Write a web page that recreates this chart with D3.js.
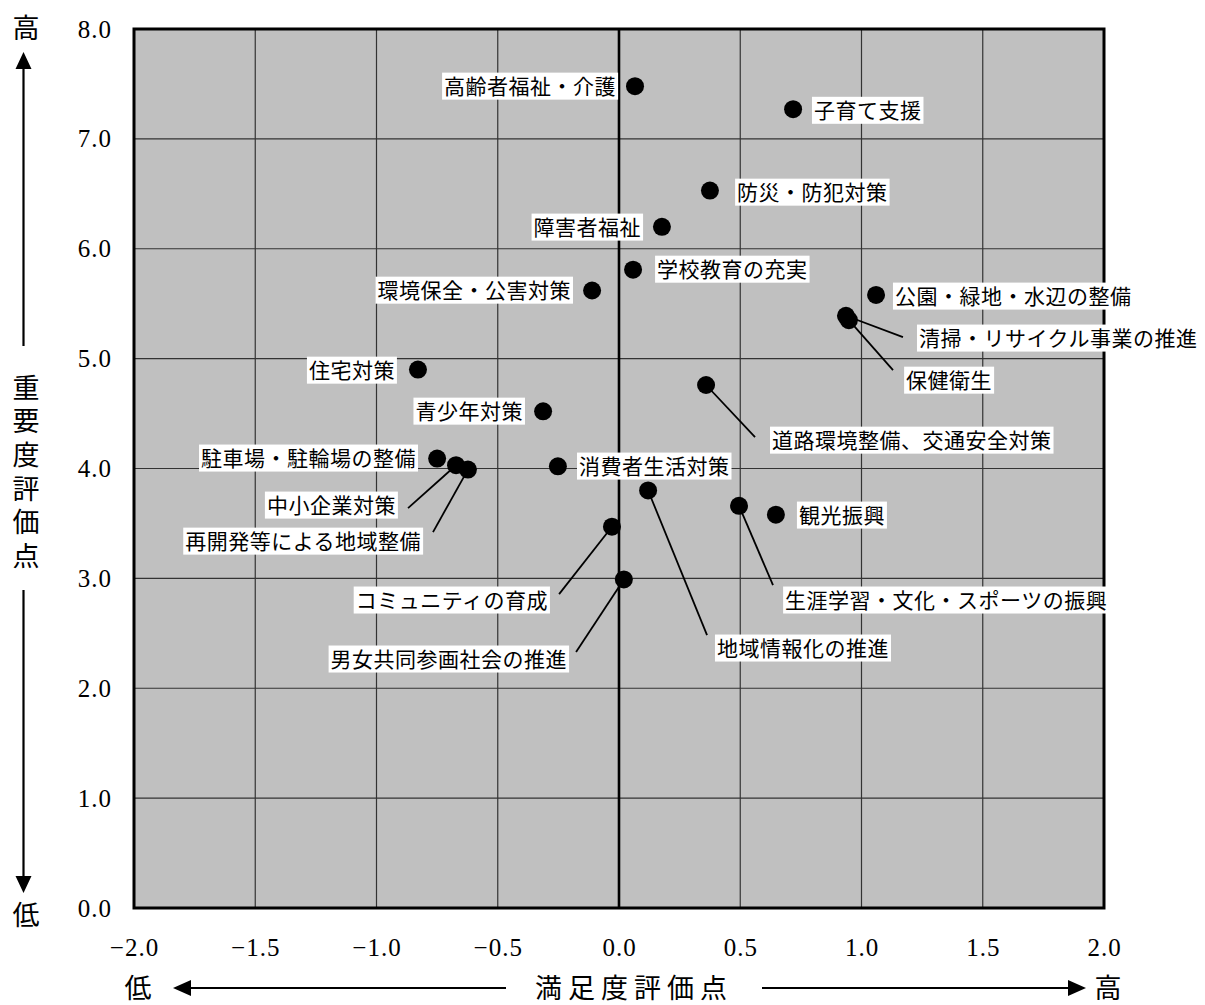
<!DOCTYPE html>
<html><head><meta charset="utf-8">
<script src="https://cdn.jsdelivr.net/npm/d3@7"></script>
<style>
html,body{margin:0;padding:0;background:#fff;}
svg{display:block;}
</style>
</head><body>
<svg id="chart" width="1205" height="1005"></svg>
<script>
// ---- data ----
const categories = [
  "高齢者福祉・介護","子育て支援","防災・防犯対策","障害者福祉","学校教育の充実",
  "環境保全・公害対策","公園・緑地・水辺の整備","清掃・リサイクル事業の推進","保健衛生","住宅対策",
  "道路環境整備、交通安全対策","青少年対策","駐車場・駐輪場の整備","中小企業対策","再開発等による地域整備",
  "消費者生活対策","地域情報化の推進","生涯学習・文化・スポーツの振興","観光振興","コミュニティの育成",
  "男女共同参画社会の推進"
];
const satisfaction = [
  0.066, 0.718, 0.375, 0.177, 0.058,
  -0.111, 1.060, 0.936, 0.948, -0.829,
  0.359, -0.313, -0.750, -0.672, -0.623,
  -0.252, 0.120, 0.495, 0.647, -0.029,
  0.020
];
const importance = [
  7.48, 7.27, 6.53, 6.20, 5.81,
  5.62, 5.58, 5.39, 5.35, 4.90,
  4.76, 4.52, 4.09, 4.03, 3.99,
  4.02, 3.80, 3.66, 3.58, 3.47,
  2.99
];
const xTicks = [-2.0,-1.5,-1.0,-0.5,0.0,0.5,1.0,1.5,2.0];
const yTicks = [0,1,2,3,4,5,6,7,8];
const xTitle = "満足度評価点";
const yTitle = "重要度評価点";
const highLabel = "高", lowLabel = "低";

// ---- label placement (data units): anchor side, label x, label y, leader end x/y ----
const labelSide = ["end","start","start","end","start","end","start","start","start","end",
                   "start","end","end","end","end","start","start","start","start","end","end"];
const labelX = [-0.012,0.804,0.487,0.091,0.157,-0.198,1.138,1.237,1.184,-0.924,
                0.631,-0.396,-0.837,-0.920,-0.816,-0.165,0.404,0.685,0.742,-0.293,-0.214];
const labelY = [7.48,7.26,6.515,6.197,5.814,5.623,5.569,5.187,4.804,4.895,
                4.258,4.522,4.095,3.667,3.339,4.022,2.366,2.803,3.576,2.803,2.266];
const leaderX = [null,null,null,null,null,null,null,1.171,1.130,null,
                 0.561,null,null,-0.870,-0.767,null,0.363,0.635,null,-0.247,-0.177];
const leaderY = [null,null,null,null,null,null,null,5.196,4.895,null,
                 4.286,null,null,3.640,3.421,null,2.484,2.939,null,2.857,2.329];

// ---- layout ----
const svg = d3.select("#chart");
const L = 134, R = 1104, T = 29, B = 908;
const x = d3.scaleLinear().domain([-2,2]).range([L,R]);
const y = d3.scaleLinear().domain([0,8]).range([B,T]);

const serif = "'Liberation Serif','DejaVu Serif',serif";
const gothic = "'Noto Sans CJK JP','Noto Sans',sans-serif";

// background
svg.append("rect").attr("x",L).attr("y",T).attr("width",R-L).attr("height",B-T).attr("fill","#c0c0c0");

// grid
const g = svg.append("g");
g.selectAll("line.vx").data(xTicks.filter(d=>d!==-2&&d!==2&&d!==0)).enter().append("line")
  .attr("x1",d=>x(d)).attr("x2",d=>x(d)).attr("y1",T).attr("y2",B)
  .attr("stroke","#333").attr("stroke-width",1.2);
g.selectAll("line.hy").data(yTicks.filter(d=>d!==0&&d!==8)).enter().append("line")
  .attr("y1",d=>y(d)).attr("y2",d=>y(d)).attr("x1",L).attr("x2",R)
  .attr("stroke","#333").attr("stroke-width",1.2);
// zero line
g.append("line").attr("x1",x(0)).attr("x2",x(0)).attr("y1",T).attr("y2",B)
  .attr("stroke","#000").attr("stroke-width",2.6);

// frame
svg.append("rect").attr("x",L).attr("y",T).attr("width",R-L).attr("height",B-T)
  .attr("fill","none").attr("stroke","#000").attr("stroke-width",3);

// axes with d3
const fmt = d => (d<0 ? "\u2212" : "") + Math.abs(d).toFixed(1);
const xAxis = d3.axisBottom(x).tickValues(xTicks).tickFormat(fmt).tickSize(0).tickPadding(0);
const xa = svg.append("g").attr("transform",`translate(0,${B})`).call(xAxis);
xa.select(".domain").remove();
xa.selectAll("text").attr("y",39).attr("dy","0.35em")
  .attr("font-family",serif).attr("font-size",25).attr("fill","#000").attr("letter-spacing",1);

const yAxis = d3.axisLeft(y).tickValues(yTicks).tickFormat(d=>d.toFixed(1)).tickSize(0).tickPadding(0);
const ya = svg.append("g").attr("transform",`translate(${L},0)`).call(yAxis);
ya.select(".domain").remove();
ya.selectAll("text").attr("x",-22).attr("dy","0.32em")
  .attr("font-family",serif).attr("font-size",25).attr("fill","#000").attr("letter-spacing",1);

// leaders
const pts = categories.map((c,i)=>({c, sx:satisfaction[i], iy:importance[i], side:labelSide[i],
  lx:labelX[i], ly:labelY[i], ex:leaderX[i], ey:leaderY[i]}));
svg.append("g").selectAll("line").data(pts.filter(d=>d.ex!==null)).enter().append("line")
  .attr("x1",d=>x(d.sx)).attr("y1",d=>y(d.iy)).attr("x2",d=>x(d.ex)).attr("y2",d=>y(d.ey))
  .attr("stroke","#000").attr("stroke-width",1.8);

// points
svg.append("g").selectAll("circle").data(pts).enter().append("circle")
  .attr("cx",d=>x(d.sx)).attr("cy",d=>y(d.iy)).attr("r",9).attr("fill","#000");

// labels with white box
const lg = svg.append("g");
pts.forEach(d=>{
  const grp = lg.append("g");
  const r = grp.append("rect").attr("fill","#fff");
  const t = grp.append("text").attr("x",x(d.lx)).attr("y",y(d.ly)).attr("dy","0.36em")
    .attr("text-anchor",d.side).attr("font-family",gothic).attr("font-size",21)
    .attr("letter-spacing",0.5).attr("fill","#000").text(d.c);
  const bb = t.node().getBBox();
  r.attr("x",bb.x-2).attr("y",y(d.ly)-13.5).attr("width",bb.width+4).attr("height",27);
});

// axis titles
const ttl = svg.append("g").attr("font-family",gothic).attr("font-size",27).attr("fill","#000");
ttl.append("text").attr("x",634).attr("y",988).attr("dy","0.36em").attr("text-anchor","middle")
  .attr("letter-spacing",6).text(xTitle);
ttl.append("text").attr("x",138).attr("y",988).attr("dy","0.36em").attr("text-anchor","middle").text(lowLabel);
ttl.append("text").attr("x",1108).attr("y",988).attr("dy","0.36em").attr("text-anchor","middle").text(highLabel);
ttl.append("text").attr("x",26).attr("y",28).attr("dy","0.36em").attr("text-anchor","middle").text(highLabel);
ttl.append("text").attr("x",26).attr("y",915).attr("dy","0.36em").attr("text-anchor","middle").text(lowLabel);
ttl.append("text").attr("x",26).attr("y",475).attr("text-anchor","middle")
  .style("writing-mode","vertical-rl").attr("letter-spacing",6.7).text(yTitle);

// arrows
const ar = svg.append("g").attr("stroke","#000").attr("stroke-width",2.2);
ar.append("line").attr("x1",188).attr("y1",988).attr("x2",506).attr("y2",988);
svg.append("path").attr("d","M173,988 L191,980 L191,996 Z").attr("fill","#000");
ar.append("line").attr("x1",762).attr("y1",988).attr("x2",1070).attr("y2",988);
svg.append("path").attr("d","M1086,988 L1068,980 L1068,996 Z").attr("fill","#000");
ar.append("line").attr("x1",23.5).attr("y1",66).attr("x2",23.5).attr("y2",346);
svg.append("path").attr("d","M23.5,52 L15.5,69 L31.5,69 Z").attr("fill","#000");
ar.append("line").attr("x1",23.5).attr("y1",590).attr("x2",23.5).attr("y2",878);
svg.append("path").attr("d","M23.5,893 L15.5,876 L31.5,876 Z").attr("fill","#000");
</script>
</body></html>
